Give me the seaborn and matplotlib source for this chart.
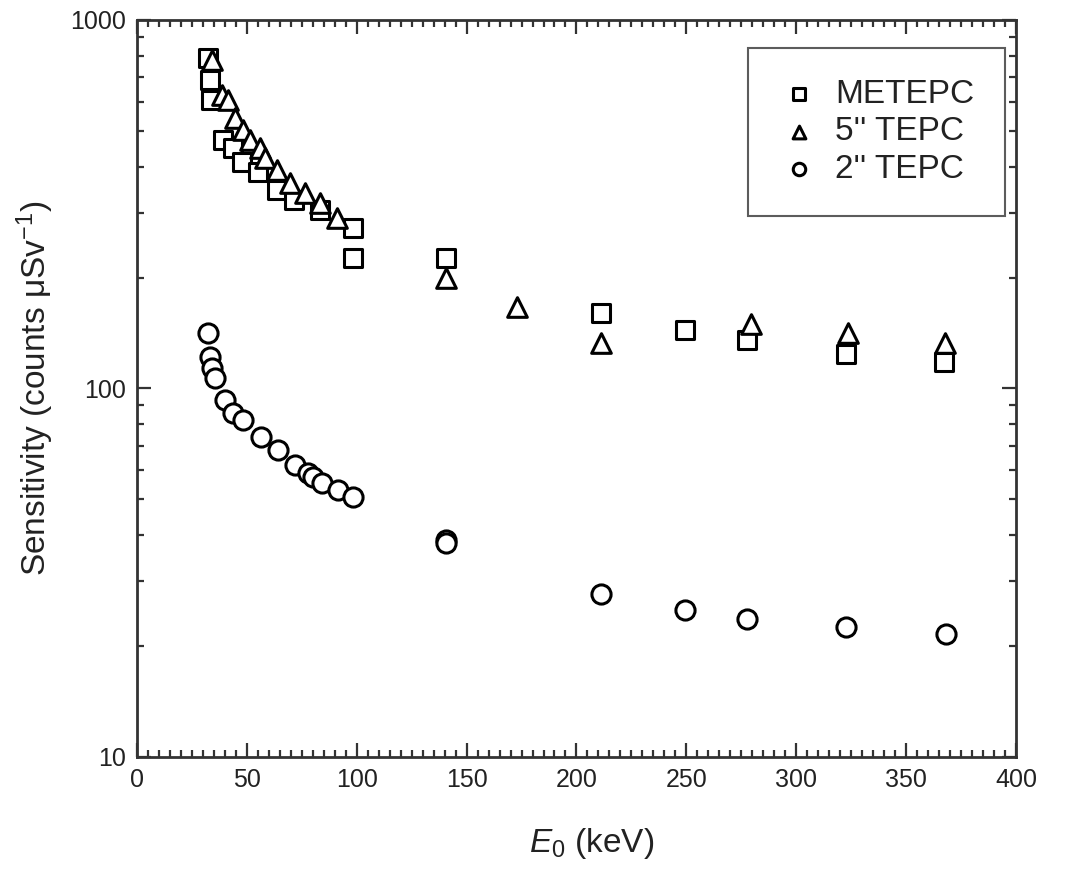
import matplotlib
matplotlib.use("Agg")
import matplotlib.pyplot as plt
import seaborn as sns
import pandas as pd
from matplotlib.ticker import MultipleLocator, LogLocator, NullFormatter

# Data (energy in keV, sensitivity in counts/uSv)
metepc_e = [32.3, 33.2, 33.7, 39.1, 43.7, 47.8, 55.1, 63.7, 71.4, 83.3, 98.3, 98.3,
            140.6, 211.1, 249.4, 277.6, 322.6, 367.2]
metepc_s = [789, 688, 606, 472, 449, 412, 387, 346, 325, 305, 273, 226,
            226, 160, 144, 135, 124, 118]

tepc5_e = [34.1, 38.7, 41.4, 44.6, 48.2, 51.4, 56.0, 58.2, 63.7, 69.6, 76.5, 83.3,
           91.0, 140.6, 172.9, 211.1, 279.4, 323.5, 367.7]
tepc5_s = [779, 626, 606, 542, 503, 472, 449, 422, 392, 361, 339, 319,
           290, 200, 166, 133, 150, 141, 133]

tepc2_e = [32.3, 33.2, 34.1, 35.5, 40.0, 43.7, 48.2, 56.4, 64.2, 71.9, 77.8, 80.1,
           84.2, 91.5, 98.3, 140.6, 140.6, 211.1, 249.4, 277.6, 322.6, 368.1]
tepc2_s = [141, 122, 114, 107, 93, 86, 82, 74, 68, 62, 59, 57.5,
           55.4, 53, 50.8, 38.8, 38.1, 27.7, 25.1, 23.7, 22.5, 21.6]

series_names = ["METEPC", "5'' TEPC", "2'' TEPC"]
series_markers = ["s", "^", "o"]
series_sizes = [150, 200, 190]

df = pd.concat([
    pd.DataFrame({"energy": metepc_e, "sensitivity": metepc_s, "detector": series_names[0]}),
    pd.DataFrame({"energy": tepc5_e, "sensitivity": tepc5_s, "detector": series_names[1]}),
    pd.DataFrame({"energy": tepc2_e, "sensitivity": tepc2_s, "detector": series_names[2]}),
])

sns.set_theme(style="ticks")
plt.rcParams["font.family"] = ["Liberation Sans", "DejaVu Sans"]
plt.rcParams["mathtext.fontset"] = "custom"
plt.rcParams["mathtext.rm"] = "Liberation Sans"
plt.rcParams["mathtext.it"] = "Liberation Sans:italic"

fig = plt.figure(figsize=(10.76, 8.69), dpi=100)
ax = fig.add_axes([0.1273, 0.1289, 0.8169, 0.8481])

for name, mk, sz in zip(series_names, series_markers, series_sizes):
    sub = df[df["detector"] == name]
    sns.scatterplot(data=sub, x="energy", y="sensitivity", marker=mk, s=sz,
                    facecolor="white", edgecolor="black", linewidth=2.2,
                    label=name, legend=False, ax=ax, zorder=3)

ax.set_yscale("log")
ax.set_xlim(0, 400)
ax.set_ylim(10, 1000)

ax.xaxis.set_major_locator(MultipleLocator(50))
ax.xaxis.set_minor_locator(MultipleLocator(5))
ax.yaxis.set_major_locator(LogLocator(base=10, numticks=5))
ax.yaxis.set_minor_locator(LogLocator(base=10, subs=range(2, 10), numticks=20))
ax.yaxis.set_major_formatter(plt.FuncFormatter(lambda v, p: f"{v:g}"))
ax.yaxis.set_minor_formatter(NullFormatter())

ax.tick_params(which="both", direction="in", top=True, right=True, width=1.6, colors="#333333",
               labelcolor="#222222")
ax.tick_params(which="major", length=10, labelsize=18, pad=8)
ax.tick_params(which="minor", length=5)
for sp in ax.spines.values():
    sp.set_linewidth(2)
    sp.set_color("#333333")

ax.set_xlabel(r"$\mathit{E}_0$ (keV)", fontsize=24, color="#222222")
ax.xaxis.set_label_coords(0.5176, -0.094)
ax.set_ylabel(r"Sensitivity (counts $\mathrm{\mu}$Sv$^{-1}$)", fontsize=24, color="#222222",
              labelpad=10)

leg = ax.legend(loc="upper right", bbox_to_anchor=(0.9875, 0.962), borderaxespad=0,
                fontsize=24, markerscale=0.65, frameon=True, fancybox=False,
                handletextpad=0.5, borderpad=0.92, labelspacing=0.2, handlelength=1.2)
leg.get_frame().set_edgecolor("#333333")
leg.get_frame().set_linewidth(1.5)
for t in leg.get_texts():
    t.set_color("#222222")

fig.savefig("out.png", dpi=100, facecolor="white")
